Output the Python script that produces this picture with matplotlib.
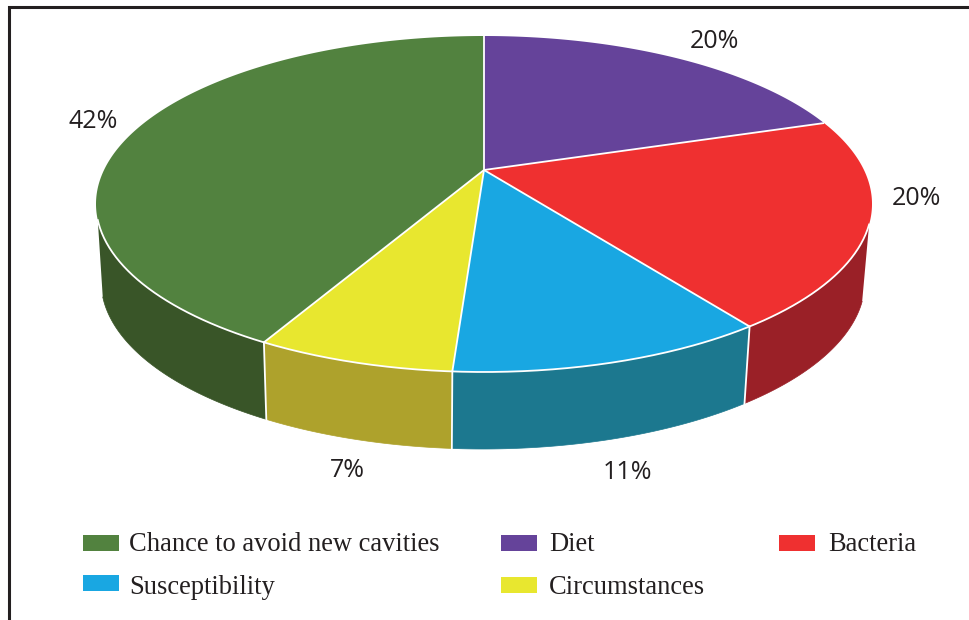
import numpy as np
import matplotlib
matplotlib.use("Agg")
import matplotlib.pyplot as plt
from matplotlib.patches import Rectangle

# clockwise from 12 o'clock, as drawn
categories = ['Diet', 'Bacteria', 'Susceptibility', 'Circumstances', 'Chance to avoid new cavities']
printed_labels = ['20%', '20%', '11%', '7%', '42%']
# share of the ellipse each slice really takes up in the picture (not the same as the printed labels)
drawn_shares = [17.0, 21.0, 13.3, 8.3, 40.4]

legend_order = ['Chance to avoid new cavities', 'Diet', 'Bacteria', 'Susceptibility', 'Circumstances']

top_colors = ['#65439a', '#ef3030', '#19a7e2', '#e8e72f', '#52823f']
side_colors = ['#65439a', '#9a2027', '#1c788f', '#aea22c', '#395528']
text_color = '#231f20'

# layout in pixels
cx, cy, rx, ry = 484, 204, 388, 168
bx, by, brx, bry = 483, 281, 382, 168
apex = (484, 170)
side_start, side_end = 97, 264.5
label_pos = [(714, 48), (916, 205), (627, 479), (347, 477), (93, 128)]
legend_swatch = [(83, 535), (501, 535), (779, 535), (83, 575), (501, 577)]
legend_text = [(129, 551), (549, 551), (828, 551), (129, 594), (549, 594)]


def top_edge(deg):
    t = np.radians(deg)
    return cx + rx * np.sin(t), cy - ry * np.cos(t)


def bottom_edge(deg):
    t = np.radians(deg)
    return bx + brx * np.sin(t), by - bry * np.cos(t)


fig = plt.figure(figsize=(9.7, 6.2), dpi=100)
ax = fig.add_axes([0, 0, 1, 1])
ax.set_xlim(0, 970)
ax.set_ylim(620, 0)
ax.axis('off')

# frame, only left and top
ax.plot([9.5, 9.5, 970], [620, 7, 7], color=text_color, lw=2.2, solid_joinstyle='miter')

ends = np.cumsum(drawn_shares) / np.sum(drawn_shares) * 360
starts = np.concatenate([[0], ends[:-1]])

# sides first
for start, end, col in zip(starts, ends, side_colors):
    a = max(start, side_start)
    b = min(end, side_end)
    if b <= a:
        continue
    t = np.linspace(a, b, 120)
    xt, yt = top_edge(t)
    xb, yb = bottom_edge(t)
    ax.fill(np.concatenate([xt, xb[::-1]]), np.concatenate([yt, yb[::-1]]), color=col, lw=0)
    ax.plot(xb, yb, color=col, lw=0.5)

# seams between the side faces
for e in ends:
    if side_start < e < side_end:
        xt, yt = top_edge(e)
        xb, yb = bottom_edge(e)
        ax.plot([xt, xb], [yt, yb], color='white', lw=1.3)

# top faces
for start, end, col in zip(starts, ends, top_colors):
    t = np.linspace(start, end, 200)
    xt, yt = top_edge(t)
    ax.fill(np.concatenate([[apex[0]], xt]), np.concatenate([[apex[1]], yt]), color=col, lw=0)

# white spokes and front rim
for e in ends:
    xt, yt = top_edge(e)
    ax.plot([apex[0], xt], [apex[1], yt], color='white', lw=1.3, solid_capstyle='butt')
xt, yt = top_edge(np.linspace(side_start, side_end, 300))
ax.plot(xt, yt, color='white', lw=1.3)

for lab, (x, y) in zip(printed_labels, label_pos):
    ax.text(x, y, lab, family='Open Sans', fontsize=18, color=text_color, ha='center', va='baseline')

for name, (x, y), (tx, ty) in zip(legend_order, legend_swatch, legend_text):
    col = top_colors[categories.index(name)]
    ax.add_patch(Rectangle((x, y), 36, 16, facecolor=col, edgecolor='none'))
    ax.text(tx, ty, name, family='Liberation Serif', fontsize=19.1, color=text_color, ha='left', va='baseline')

fig.savefig('out.png', dpi=100)
